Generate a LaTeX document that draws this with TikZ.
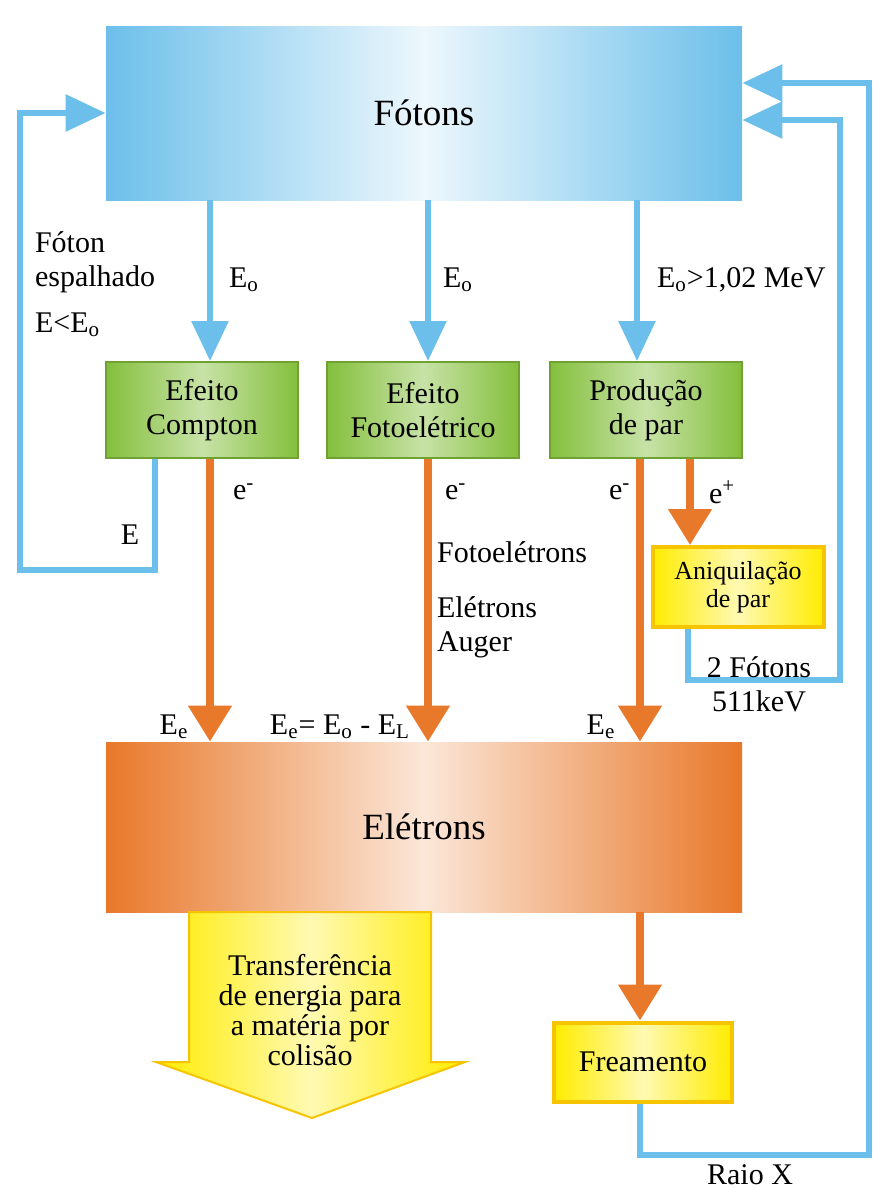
\documentclass[tikz,border=0pt]{standalone}
\usepackage{fontspec}
\setmainfont{Liberation Serif}
\usetikzlibrary{arrows.meta}
\definecolor{azul}{HTML}{6CBFEA}
\definecolor{laranja}{HTML}{E8782A}
\definecolor{verde}{HTML}{84BF3C}
\definecolor{amarelo}{HTML}{FFEC00}
\definecolor{ouro}{HTML}{F6C400}
\begin{document}
\begin{tikzpicture}[x=0.5pt,y=-0.5pt,font=\fontsize{15}{17}\selectfont]
\tikzstyle{bx} = [minimum width=318pt,inner sep=0pt,font=\fontsize{18.5}{20}\selectfont] %caixa grande
\tikzstyle{gb} = [draw=verde!85!black,line width=1pt,left color=verde,right color=verde,middle color=verde!45,minimum width=96pt,minimum height=48pt,align=center,inner sep=0pt] %caixa verde
\tikzstyle{yb} = [draw=ouro,line width=2pt,left color=amarelo,right color=amarelo,middle color=amarelo!30,align=center,inner sep=0pt] %caixa amarela
\tikzstyle{bl} = [draw=azul,line width=3pt] %linha de foton
\tikzstyle{ba} = [bl,-{Triangle[width=18pt,length=20pt]}] %seta de foton
\tikzstyle{oa} = [draw=laranja,line width=4pt,-{Triangle[width=21pt,length=18pt]}] %seta de eletron
\useasboundingbox (0,0) rectangle (873,1189);
\node[bx,minimum height=87pt,left color=azul,right color=azul,middle color=azul!12](nf)at(424,113){Fótons};
\node[gb](nc)at(202,410){Efeito\\Compton};
\node[gb](nfe)at(423,410){Efeito\\Fotoelétrico};
\node[gb](np)at(646,410){Produção\\de par};
\node[yb,minimum width=85.5pt,minimum height=40pt,font=\fontsize{13}{14}\selectfont](na)at(738,587){Aniquilação\\de par};
\node[bx,minimum height=85pt,left color=laranja,right color=laranja,middle color=laranja!18](ne)at(424,827){Elétrons};
\node[yb,minimum width=89pt,minimum height=39.5pt](nfr)at(643,1062){Freamento};
% seta larga amarela
\path[draw=ouro,line width=1pt,left color=amarelo,right color=amarelo,middle color=amarelo!30] (189,912) -- (431,912) -- (431,1062) -- (465,1062) -- (312,1118) -- (156,1062) -- (189,1062) -- cycle;
\node[align=center,font=\fontsize{15}{15}\selectfont](nt)at(310,1010){Transferência\\de energia para\\a matéria por\\colisão};
% fotons
\draw[ba] ([xshift=4pt]nc.north |- nf.south) -- ([xshift=4pt]nc.north);
\draw[ba] ([xshift=2.5pt]nfe.north |- nf.south) -- ([xshift=2.5pt]nfe.north);
\draw[ba] ([xshift=-4.5pt]np.north |- nf.south) -- ([xshift=-4.5pt]np.north);
\coordinate (cl) at (20,570);
\coordinate (cr) at (840,680);
\coordinate (cx) at (869,1155);
\draw[ba] ([xshift=-23.5pt]nc.south) |- (cl) |- (nf.west);
\draw[ba] ([xshift=-25pt]na.south) |- (cr) |- ([yshift=-3.5pt]nf.east);
\draw[ba] ([xshift=-1.5pt]nfr.south) |- (cx) |- ([yshift=15pt]nf.east);
% eletrons
\draw[oa] ([xshift=4pt]nc.south) -- ([xshift=4pt]nc.south |- ne.north);
\draw[oa] ([xshift=2.5pt]nfe.south) -- ([xshift=2.5pt]nfe.south |- ne.north);
\draw[oa] ([xshift=-3pt]np.south) -- ([xshift=-3pt]np.south |- ne.north);
\draw[oa] ([xshift=22pt]np.south) -- ([xshift=22pt]np.south |- na.north);
\draw[oa] ([xshift=-1.5pt]nfr.north |- ne.south) -- ([xshift=-1.5pt]nfr.north);
% rotulos
\node[anchor=west](l1)at(222,280){E\textsubscript{o}};
\node[anchor=west](l2)at(436,280){E\textsubscript{o}};
\node[anchor=west](l3)at(650,280){E\textsubscript{o}>1,02 MeV};
\node[anchor=west,align=left](l4)at(28,262){Fóton\\espalhado};
\node[anchor=west](l5)at(28,325){E<E\textsubscript{o}};
\node(l6)at(130,535){E};
\node[anchor=west](l7)at(226,492){e\textsuperscript{-}};
\node[anchor=west](l8)at(438,492){e\textsuperscript{-}};
\node[anchor=west](l9)at(602,492){e\textsuperscript{-}};
\node[anchor=west](l10)at(702,492){e\textsuperscript{+}};
\node[anchor=west](l11)at(430,552){Fotoelétrons};
\node[anchor=west,align=left](l12)at(430,627){Elétrons\\Auger};
\node[align=center](l13)at(759,684){2 Fótons\\511keV};
\node(l14)at(174,727){E\textsubscript{e}};
\node(l15)at(340,727){E\textsubscript{e}= E\textsubscript{o} - E\textsubscript{L}};
\node(l16)at(601,727){E\textsubscript{e}};
\node(l17)at(750,1175){Raio X};
\end{tikzpicture}
\end{document}
